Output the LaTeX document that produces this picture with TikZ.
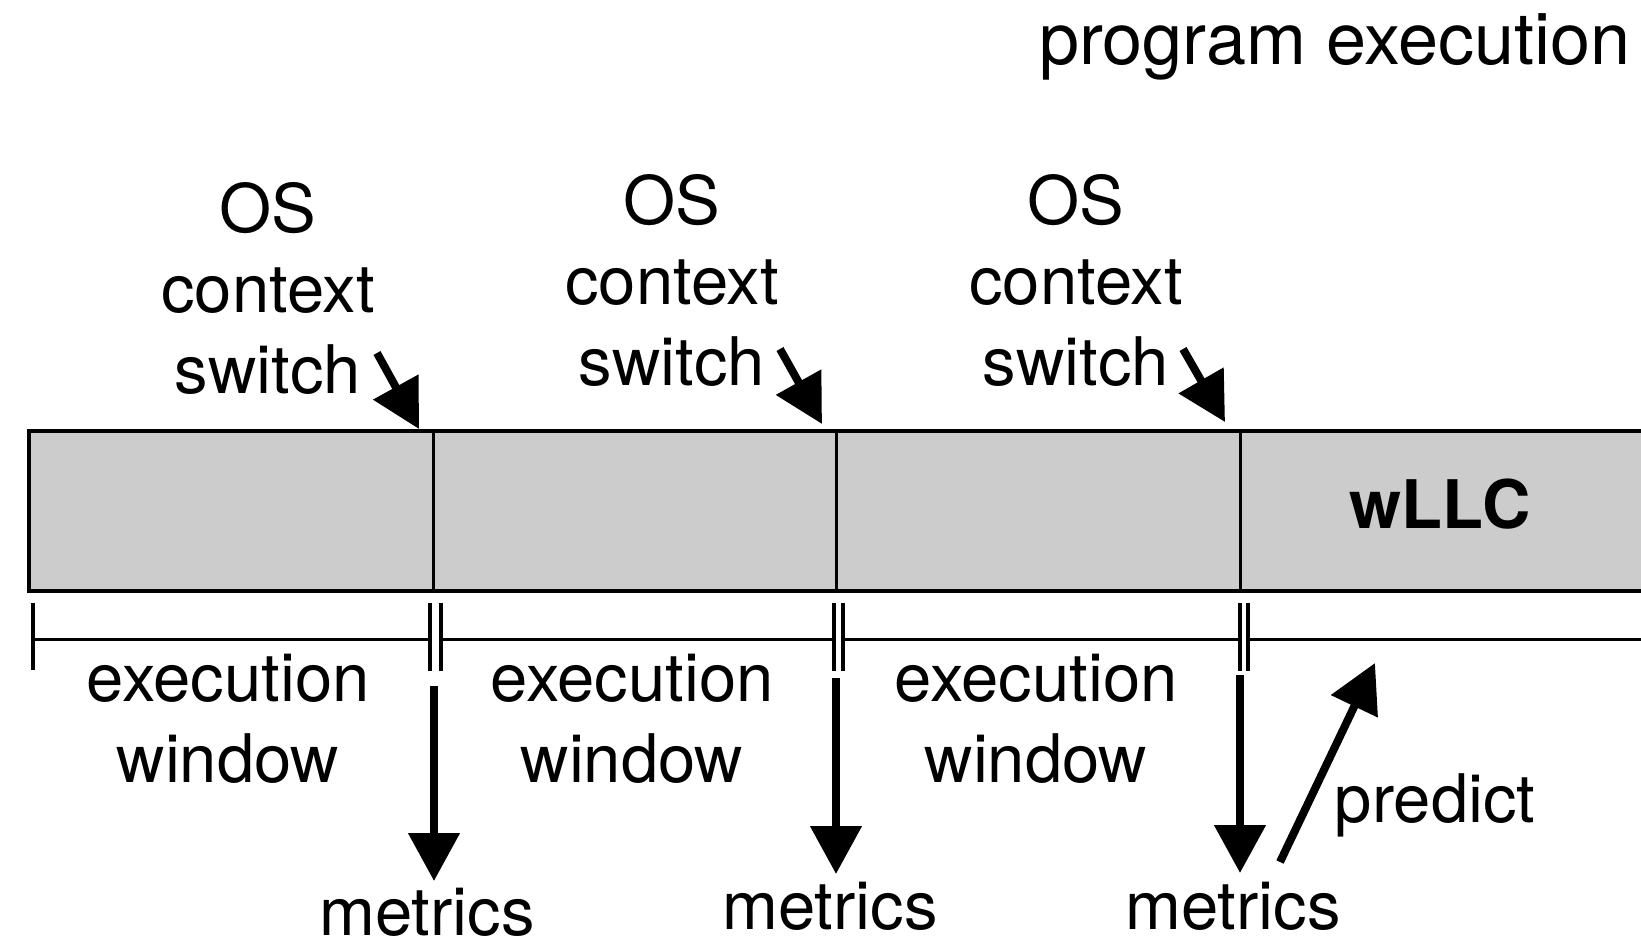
\documentclass[tikz,border=0pt]{standalone}
\usepackage{fontspec}
\setmainfont{TeX Gyre Heros}
\usetikzlibrary{arrows.meta}
\definecolor{barfill}{HTML}{CCCCCC}
\begin{document}
\begin{tikzpicture}[x=1pt,y=-1pt,
  lbl/.style={font=\fontsize{67}{80.5}\selectfont, align=center, anchor=base, inner sep=0pt},
  bigarrow/.style={line width=8pt, -{Triangle[length=48pt,width=50pt]}},
  barline/.style={line width=4pt},
  divider/.style={line width=3pt},
  tl/.style={line width=3pt},
  tick/.style={line width=4pt}]
\useasboundingbox (0,0) rectangle (1641,947);
\clip (0,0) rectangle (1641,947);

% heading
\node[lbl, anchor=base east, font=\fontsize{72}{80}\selectfont] (title) at (1631,65) {program execution};

% execution bar
\draw[barline, fill=barfill] (29,431) rectangle (1700,591);
\draw[divider] (433,431) -- (433,591);
\draw[divider] (836,431) -- (836,591);
\draw[divider] (1240,431) -- (1240,591);
\node[lbl, font=\fontsize{67}{80}\bfseries\selectfont] (wllc) at (1440,528) {wLLC};

% context switch labels (anchored at the baseline of the last line) and arrows
\node[lbl] (os1) at (268,393) {OS\\context\\switch};
\node[lbl] (os2) at (672,385) {OS\\context\\switch};
\node[lbl] (os3) at (1076,385) {OS\\context\\switch};
\coordinate (cs1a) at (377,353); \coordinate (cs1b) at (419,429);
\coordinate (cs2a) at (780,349); \coordinate (cs2b) at (822,424);
\coordinate (cs3a) at (1183,349); \coordinate (cs3b) at (1225,422);
\draw[bigarrow] (cs1a) -- (cs1b);
\draw[bigarrow] (cs2a) -- (cs2b);
\draw[bigarrow] (cs3a) -- (cs3b);

% time line with window boundaries
\draw[tick] (33,603) -- (33,670);
\draw[tl] (33,639) -- (430,639);
\draw[tick] (430,603) -- (430,671);
\draw[tick] (441,603) -- (441,671);
\draw[tl] (441,639) -- (834,639);
\draw[tick] (834,603) -- (834,671);
\draw[tick] (843,603) -- (843,671);
\draw[tl] (843,639) -- (1240,639);
\draw[tick] (1240,603) -- (1240,671);
\draw[tick] (1248,603) -- (1248,671);
\draw[tl] (1248,639) -- (1700,639);

% execution windows
\node[lbl] (ew1) at (228,782) {execution\\window};
\node[lbl] (ew2) at (632,782) {execution\\window};
\node[lbl] (ew3) at (1036,782) {execution\\window};

% metrics
\node[lbl] (m1) at (427,935) {metrics};
\node[lbl] (m2) at (830,929) {metrics};
\node[lbl] (m3) at (1233,929) {metrics};
\coordinate (d1a) at (434,686); \coordinate (d1b) at (434,881);
\coordinate (d2a) at (836,678); \coordinate (d2b) at (836,874);
\coordinate (d3a) at (1240,675); \coordinate (d3b) at (1240,873);
\draw[bigarrow] (d1a) -- (d1b);
\draw[bigarrow] (d2a) -- (d2b);
\draw[bigarrow] (d3a) -- (d3b);

% prediction
\node[lbl] (pred) at (1435,822) {predict};
\coordinate (pa) at (1280,862); \coordinate (pb) at (1375,663);
\draw[bigarrow] (pa) -- (pb);
\end{tikzpicture}
\end{document}
